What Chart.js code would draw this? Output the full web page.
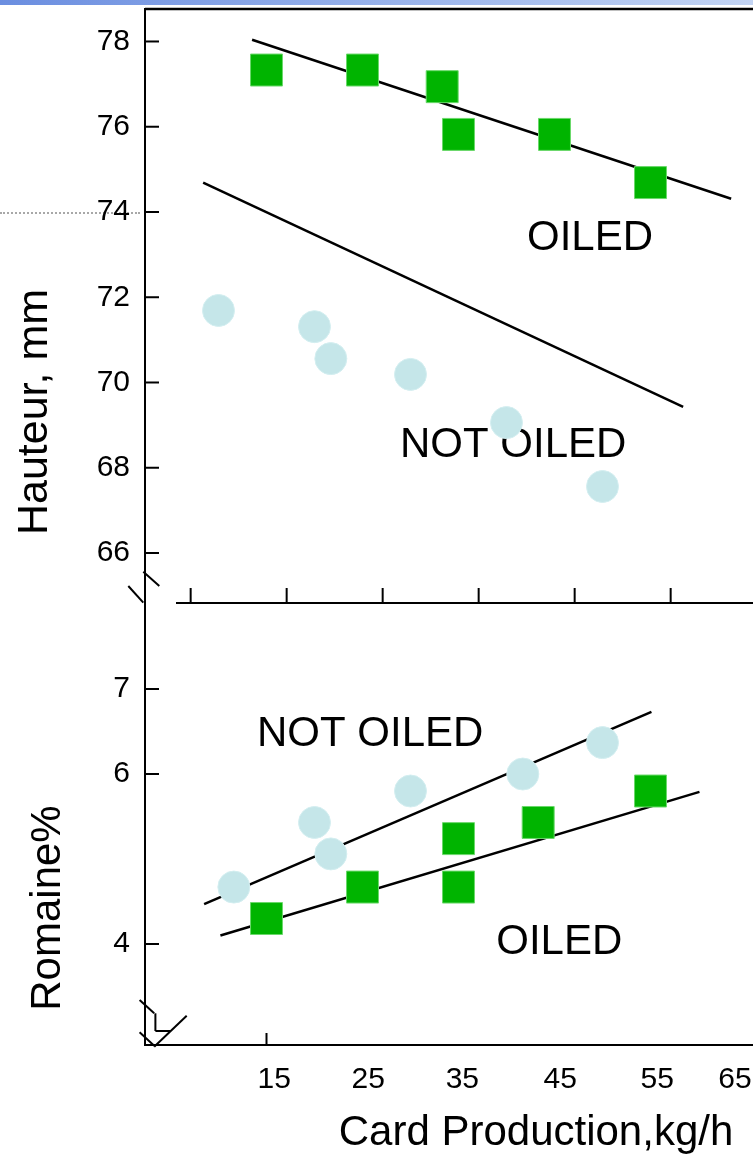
<!DOCTYPE html>
<html>
<head>
<meta charset="utf-8">
<script src="https://cdn.jsdelivr.net/npm/chart.js@4.4.0/dist/chart.umd.min.js"></script>
<style>
  html, body { margin: 0; padding: 0; background: #fff; overflow: hidden; }
  #wrap { position: relative; width: 753px; height: 1158px; }
  #wrap canvas { position: absolute; left: 0; top: 0; }
  #bar { position: absolute; left: 0; top: 0; width: 753px; height: 5px; background: linear-gradient(to right, #6b8ee0, #c3d4f3); }
  #guide { position: absolute; left: 0; top: 212px; width: 140px; border-top: 2px dotted #a8a8a8; }
</style>
</head>
<body>
<div id="wrap">
  <div id="bar"></div>
  <div id="guide"></div>
  <canvas id="top" width="753" height="1158"></canvas>
  <canvas id="bottom" width="753" height="1158"></canvas>
</div>
<script>
// card production (kg/h) vs height and Romaine %
const heightOiledX = [15, 25, 33.3, 35, 45, 55];
const heightOiledY = [77.33, 77.33, 76.94, 75.82, 75.82, 74.69];
const heightNotOiledX = [10, 20, 21.7, 30, 40, 50];
const heightNotOiledY = [71.69, 71.31, 70.56, 70.19, 69.06, 67.56];
const heightOiledFitX = [13.5, 63.4];
const heightOiledFitY = [78.04, 74.31];
const heightNotOiledFitX = [8.4, 58.4];
const heightNotOiledFitY = [74.69, 69.43];

const romaineOiledX = [15, 25, 35, 35, 43.3, 55];
const romaineOiledY = [4.30, 4.67, 5.24, 4.67, 5.43, 5.80];
const romaineNotOiledX = [11.6, 20, 21.7, 30, 41.7, 50];
const romaineNotOiledY = [4.67, 5.43, 5.06, 5.80, 6.00, 6.37];
const romaineOiledFitX = [10.2, 60.1];
const romaineOiledFitY = [4.10, 5.79];
const romaineNotOiledFitX = [8.5, 55.1];
const romaineNotOiledFitY = [4.47, 6.73];

const heightTicks = [66, 68, 70, 72, 74, 76, 78];
const romaineTicks = [4, 6, 7];
const xLabels = ["15", "25", "35", "45", "55", "65"];
const xLabelAt = [15.8, 25.6, 35.4, 45.6, 55.7, 63.8];
const topXTickAt = [7.1, 17.1, 27.1, 37.1, 47.1, 57.1];
const bottomXTickAt = [15];

const FONT = '"Liberation Sans", Arial, sans-serif';
const xMin = 2.344, xMax = 65.677;

function pts(xs, ys, square) {
  return {
    data: xs.map((x, i) => ({ x: x, y: ys[i] })),
    pointStyle: square ? "rect" : "circle",
    pointRadius: square ? 22.6 : 16,
    backgroundColor: square ? "#00b400" : "#c5e6e9",
    borderColor: square ? "#6ad96a" : "#d3eef0",
    borderWidth: 1,
    showLine: false
  };
}

function fit(xs, ys) {
  return {
    data: xs.map((x, i) => ({ x: x, y: ys[i] })),
    showLine: true,
    pointRadius: 0,
    borderColor: "#000",
    borderWidth: 2.5,
    fill: false
  };
}

function noPad(s) {
  s.paddingLeft = 0; s.paddingRight = 0; s.paddingTop = 0; s.paddingBottom = 0;
}

// axis decoration: inward ticks, frame, axis breaks, notes and titles
const decor = {
  id: "decor",
  beforeDatasetsDraw(chart, args, opts) {
    const ctx = chart.ctx;
    const { left, right, top, bottom } = chart.chartArea;
    const x = chart.scales.x, y = chart.scales.y;
    ctx.save();
    ctx.strokeStyle = "#000";
    ctx.lineWidth = 2;
    const seg = (x1, y1, x2, y2) => { ctx.beginPath(); ctx.moveTo(x1, y1); ctx.lineTo(x2, y2); ctx.stroke(); };
    if (opts.frameTop) { ctx.lineWidth = 2.5; seg(left, top, right, top); ctx.lineWidth = 2; }
    if (opts.xLineFrom != null) seg(left + opts.xLineFrom, bottom, right, bottom);
    y.ticks.forEach(t => { const py = y.getPixelForValue(t.value); seg(left, py, left + opts.yTick, py); });
    opts.xTicks.forEach(v => { const px = x.getPixelForValue(v); seg(px, bottom, px, bottom - opts.xTick); });
    opts.breaks.forEach(b => seg(left + b[0], bottom + b[1], left + b[2], bottom + b[3]));
    ctx.fillStyle = "#000";
    ctx.textAlign = "center";
    ctx.textBaseline = "middle";
    opts.notes.forEach(n => {
      ctx.font = "42px " + FONT;
      ctx.fillText(n.text, x.getPixelForValue(n.x), y.getPixelForValue(n.y));
    });
    opts.titles.forEach(t => {
      ctx.save();
      ctx.font = t.size + "px " + FONT;
      ctx.translate(t.cx, t.cy);
      ctx.rotate(t.rot || 0);
      ctx.fillText(t.text, 0, 0);
      ctx.restore();
    });
    ctx.restore();
  }
};

const tickFont = { family: FONT, size: 30 };

new Chart(document.getElementById("top"), {
  type: "scatter",
  data: {
    datasets: [
      pts(heightOiledX, heightOiledY, true),
      pts(heightNotOiledX, heightNotOiledY, false),
      fit(heightOiledFitX, heightOiledFitY),
      fit(heightNotOiledFitX, heightNotOiledFitY)
    ]
  },
  options: {
    responsive: false,
    animation: false,
    layout: { autoPadding: false, padding: { top: 9, bottom: 555, left: 0, right: 0 } },
    plugins: {
      legend: { display: false },
      tooltip: { enabled: false },
      decor: {
        frameTop: true,
        xLineFrom: 31,
        yTick: 14,
        xTick: 15,
        xTicks: topXTickAt,
        breaks: [[-1.7, -31.3, 14.3, -17], [-16.7, -17, -1.7, -0.3]],
        notes: [
          { text: "OILED", x: 48.7, y: 73.39 },
          { text: "NOT OILED", x: 40.7, y: 68.53 }
        ],
        titles: [{ text: "Hauteur, mm", cx: 35, cy: 412, size: 43, rot: -Math.PI / 2 }]
      }
    },
    scales: {
      x: { type: "linear", min: xMin, max: xMax, display: false },
      y: {
        type: "linear",
        min: 64.827,
        max: 78.762,
        afterBuildTicks: s => { s.ticks = heightTicks.map(v => ({ value: v })); },
        grid: { display: false, drawTicks: false },
        border: { display: true, color: "#000", width: 2 },
        ticks: { padding: 15, color: "#000", font: tickFont },
        afterFit: s => { s.width = 145; noPad(s); }
      }
    }
  },
  plugins: [decor]
});

new Chart(document.getElementById("bottom"), {
  type: "scatter",
  data: {
    datasets: [
      pts(romaineOiledX, romaineOiledY, true),
      pts(romaineNotOiledX, romaineNotOiledY, false),
      fit(romaineOiledFitX, romaineOiledFitY),
      fit(romaineNotOiledFitX, romaineNotOiledFitY)
    ]
  },
  options: {
    responsive: false,
    animation: false,
    layout: { autoPadding: false, padding: { top: 603, bottom: 0, left: 0, right: 0 } },
    plugins: {
      legend: { display: false },
      tooltip: { enabled: false },
      decor: {
        frameTop: false,
        xLineFrom: null,
        yTick: 14,
        xTick: 12,
        xTicks: bottomXTickAt,
        breaks: [
          [-5.4, -45, 9.2, -31.7],
          [10.4, -31.7, 10.4, -14],
          [10.4, -14, 25.8, -14],
          [41.7, -29.3, 9.2, 1.7],
          [-5.4, -12.7, 9.2, 0.7]
        ],
        notes: [
          { text: "NOT OILED", x: 25.8, y: 6.47 },
          { text: "OILED", x: 45.5, y: 4.02 }
        ],
        titles: [
          { text: "Romaine%", cx: 48, cy: 908, size: 42, rot: -Math.PI / 2 },
          { text: "Card Production,kg/h", cx: 536, cy: 1133, size: 42 }
        ]
      }
    },
    scales: {
      x: {
        type: "linear",
        min: xMin,
        max: xMax,
        afterBuildTicks: s => { s.ticks = xLabelAt.map(v => ({ value: v })); },
        grid: { display: false, drawTicks: false },
        border: { display: true, color: "#000", width: 2 },
        ticks: {
          padding: 17, color: "#000", font: tickFont, maxRotation: 0, autoSkip: false,
          callback: (v, i) => xLabels[i]
        },
        afterFit: s => { s.height = 113; noPad(s); }
      },
      y: {
        type: "linear",
        min: 2.812,
        max: 8.012,
        afterBuildTicks: s => { s.ticks = romaineTicks.map(v => ({ value: v })); },
        grid: { display: false, drawTicks: false },
        border: { display: true, color: "#000", width: 2 },
        ticks: { padding: 15, color: "#000", font: tickFont },
        afterFit: s => { s.width = 145; noPad(s); }
      }
    }
  },
  plugins: [decor]
});
</script>
</body>
</html>
